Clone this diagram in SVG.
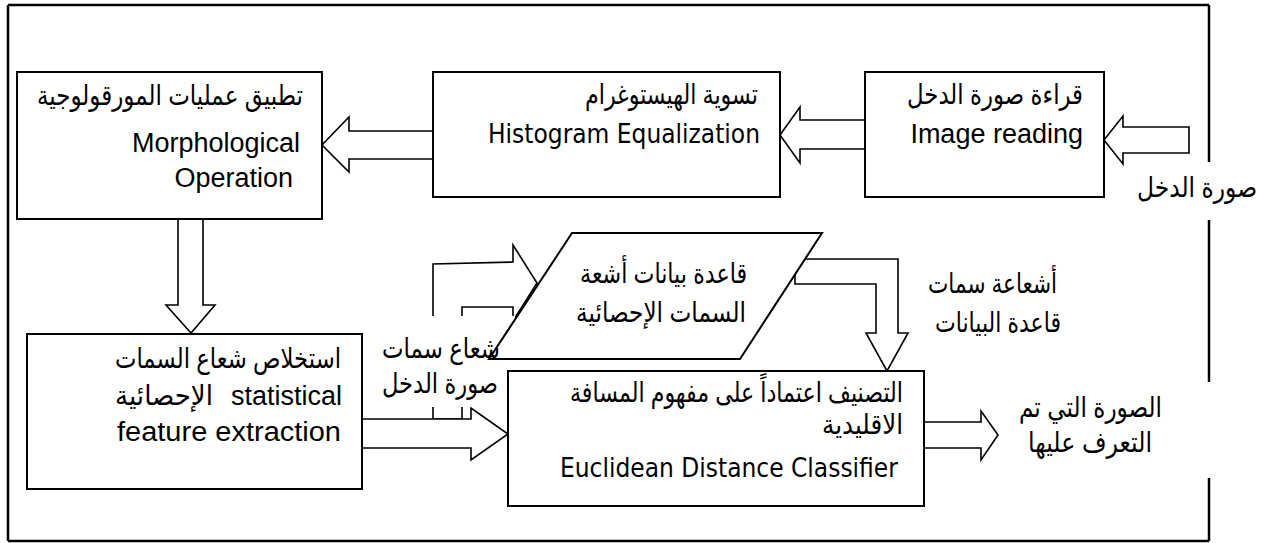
<svg xmlns="http://www.w3.org/2000/svg" width="1271" height="543" viewBox="0 0 1271 543">
<style>
.box{fill:#fff;stroke:#000;stroke-width:2}
.arr{fill:#fff;stroke:#000;stroke-width:1.6;stroke-linejoin:miter}
.frame{fill:none;stroke:#000;stroke-width:2.5}
.ar{font-family:"Liberation Sans","DejaVu Sans",sans-serif;font-size:28px;fill:#000}
.en{font-family:"Liberation Sans",Arial,sans-serif;font-size:27px;fill:#000}
.ta{font-family:"DejaVu Sans Condensed","DejaVu Sans",sans-serif;font-size:26px;fill:#000}
.e{text-anchor:end}
</style>
<rect width="1271" height="543" fill="#fff"/>
<g id="frame">
<line class="frame" x1="8" y1="5" x2="1209" y2="5"/>
<line class="frame" x1="8" y1="5" x2="8" y2="541"/>
<line class="frame" x1="8" y1="541" x2="1209" y2="541"/>
<line class="frame" x1="1209" y1="5" x2="1209" y2="162"/>
<line class="frame" x1="1209" y1="220" x2="1209" y2="382"/>
<line class="frame" x1="1209" y1="478" x2="1209" y2="541"/>
</g>
<g id="connectors">
<polygon class="arr" points="1189,127 1123,127 1123,116 1104,140 1123,164 1123,153 1189,153"/>
<polygon class="arr" points="865,120 800,120 800,107 780,135 800,163 800,149 865,149"/>
<polygon class="arr" points="433,131 349,131 349,117 322,145 349,172 349,159 433,159"/>
<polygon class="arr" points="178,219 178,305 166,305 191,333 215,305 203,305 203,219"/>
<polygon class="arr" points="433,419 433,264 513,262 513,245 537,283 513,321 513,307 462,307 462,419"/>
<polygon class="arr" points="795,259 898,259 898,333 908,333 887,371 866,333 876,333 876,284 795,284"/>
<polygon class="arr" points="362,419 471,419 471,408 508,434 471,460 471,448 362,448"/>
<polygon class="arr" points="924,422 981,422 981,411 998,435 981,460 981,448 924,448"/>
</g>
<rect x="372" y="316" width="143" height="91" fill="#fff"/>
<g id="n_db">
<polygon class="box" points="572,233 822,233 740,359 489,359"/>
<text class="ar" x="580" y="283" textLength="167" lengthAdjust="spacingAndGlyphs">قاعدة بيانات أشعة</text>
<text class="ar" x="576" y="322" textLength="170" lengthAdjust="spacingAndGlyphs">السمات الإحصائية</text>
</g>
<g id="n_reading">
<rect class="box" x="865" y="72" width="239" height="125"/>
<text class="ar" x="907" y="104" textLength="176" lengthAdjust="spacingAndGlyphs">قراءة صورة الدخل</text>
<text class="en e" x="1083" y="143">Image reading</text>
</g>
<g id="n_hist">
<rect class="box" x="433" y="72" width="347" height="125"/>
<text class="ar" x="585" y="104" textLength="173" lengthAdjust="spacingAndGlyphs">تسوية الهيستوغرام</text>
<text class="ta e" x="760" y="143">Histogram Equalization</text>
</g>
<g id="n_morph">
<rect class="box" x="17" y="72" width="305" height="147"/>
<text class="ar" x="37" y="105" textLength="266" lengthAdjust="spacingAndGlyphs">تطبيق عمليات المورقولوجية</text>
<text class="en e" x="300" y="152">Morphological</text>
<text class="en e" x="293" y="187">Operation</text>
</g>
<g id="n_feat">
<rect class="box" x="27" y="334" width="335" height="155"/>
<text class="ar" x="115" y="368" textLength="226" lengthAdjust="spacingAndGlyphs">استخلاص شعاع السمات</text>
<text class="ar" x="115" y="405" textLength="98" lengthAdjust="spacingAndGlyphs">الإحصائية</text>
<text class="en e" x="342" y="405">statistical</text>
<text class="en" x="117" y="441" font-size="28" textLength="224" lengthAdjust="spacingAndGlyphs">feature extraction</text>
</g>
<g id="n_class">
<rect class="box" x="508" y="371" width="416" height="135"/>
<text class="ar" x="570" y="402" textLength="333" lengthAdjust="spacingAndGlyphs">التصنيف اعتماداً على مفهوم المسافة</text>
<text class="ar" x="822" y="434" textLength="81" lengthAdjust="spacingAndGlyphs">الاقليدية</text>
<text class="ta" x="560" y="477">Euclidean Distance Classifier</text>
</g>
<g id="labels">
<text class="ar" x="382" y="358" textLength="118" lengthAdjust="spacingAndGlyphs">شعاع سمات</text>
<text class="ar" x="382" y="393" textLength="116" lengthAdjust="spacingAndGlyphs">صورة الدخل</text>
<text class="ar" x="1137" y="197" textLength="120" lengthAdjust="spacingAndGlyphs">صورة الدخل</text>
<text class="ar" x="928" y="293" textLength="129" lengthAdjust="spacingAndGlyphs">أشعاعة سمات</text>
<text class="ar" x="935" y="332" textLength="126" lengthAdjust="spacingAndGlyphs">قاعدة البيانات</text>
<text class="ar" x="1019" y="417" textLength="143" lengthAdjust="spacingAndGlyphs">الصورة التي تم</text>
<text class="ar" x="1028" y="452" textLength="124" lengthAdjust="spacingAndGlyphs">التعرف عليها</text>
</g>
</svg>
